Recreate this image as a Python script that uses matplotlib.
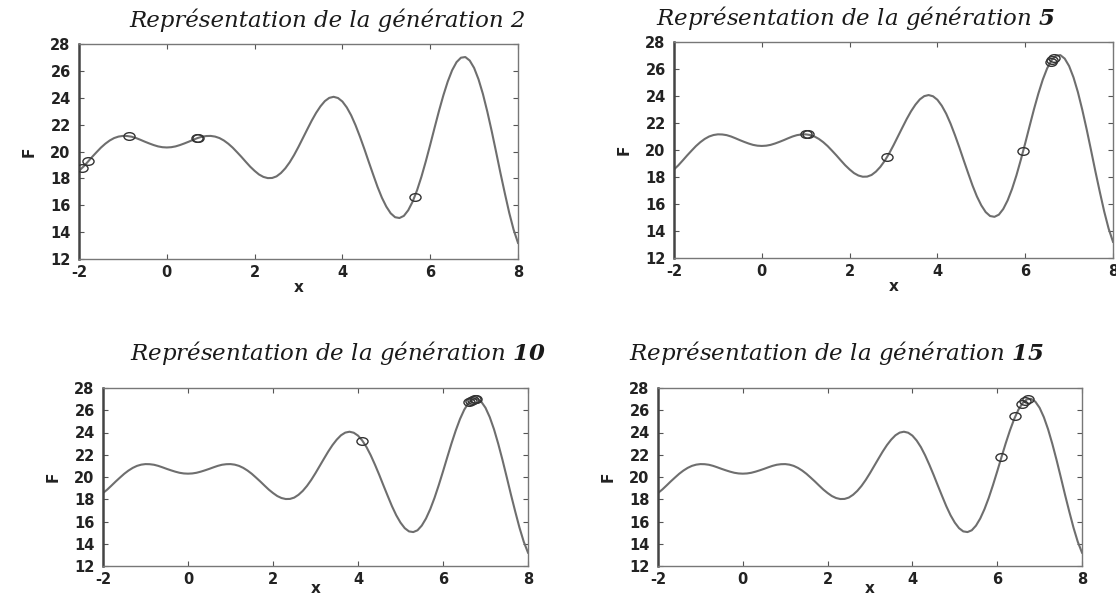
import matplotlib
matplotlib.use('Agg')
import matplotlib.pyplot as plt
from matplotlib.path import Path
from matplotlib.transforms import Affine2D

plt.rcParams['mathtext.fontset'] = 'custom'
plt.rcParams['mathtext.bf'] = 'DejaVu Serif:italic:bold'
plt.rcParams['mathtext.rm'] = 'DejaVu Serif:italic'
plt.rcParams['axes.unicode_minus'] = False

################################ courbe F(x) ################################
x_curve = [round(-2 + 0.1 * i, 1) for i in range(101)]   # pas de 0.1 sur [-2, 8]
F_curve = [18.56, 18.87, 19.23, 19.60, 19.95, 20.29, 20.58, 20.82, 21.00, 21.11,   # -2.0 .. -1.1
           21.16, 21.15, 21.10, 21.00, 20.87, 20.73, 20.60, 20.48, 20.38, 20.32,   # -1.0 .. -0.1
           20.30, 20.32, 20.38, 20.48, 20.60, 20.73, 20.87, 21.00, 21.10, 21.15,   #  0.0 ..  0.9
           21.16, 21.11, 21.00, 20.82, 20.58, 20.29, 19.95, 19.60, 19.23, 18.87,   #  1.0 ..  1.9
           18.56, 18.29, 18.11, 18.02, 18.03, 18.15, 18.40, 18.75, 19.20, 19.74,   #  2.0 ..  2.9
           20.35, 21.00, 21.65, 22.29, 22.87, 23.36, 23.75, 23.99, 24.07, 23.98,   #  3.0 ..  3.9
           23.72, 23.28, 22.69, 21.95, 21.10, 20.19, 19.23, 18.29, 17.37, 16.56,   #  4.0 ..  4.9
           15.90, 15.40, 15.11, 15.05, 15.21, 15.63, 16.27, 17.11, 18.12, 19.27,   #  5.0 ..  5.9
           20.50, 21.77, 23.02, 24.18, 25.21, 26.05, 26.65, 26.98, 27.03, 26.77,   #  6.0 ..  6.9
           26.22, 25.38, 24.29, 22.98, 21.53, 19.98, 18.40, 16.89, 15.44, 14.18,   #  7.0 ..  7.9
           13.20]                                                                  #  8.0

# individus de la population (cercles) pour chaque generation
generations = ['2', '5', '10', '15']
pop_x = [
    [-1.93, -1.79, -0.85, 0.68, 0.72, 5.65],
    [1.0, 1.05, 2.86, 5.96, 6.58, 6.62, 6.66],
    [4.1, 6.62, 6.66, 6.7, 6.75, 6.78],
    [6.1, 6.43, 6.58, 6.65, 6.73],
]
pop_F = [
    [18.78, 19.26, 21.13, 20.99, 21.01, 16.65],
    [21.16, 21.15, 19.50, 19.90, 26.55, 26.70, 26.82],
    [23.28, 26.70, 26.85, 26.95, 27.00, 27.03],
    [21.77, 25.48, 26.55, 26.85, 27.03],
]

x_ticks = [-2, 0, 2, 4, 6, 8]
y_ticks = [12, 14, 16, 18, 20, 22, 24, 26, 28]

# positions des axes en pixels (gauche, droite, haut, bas) et centre des titres
W, H = 1116, 595
boxes = [(79, 518, 44, 259), (674, 1113, 42, 258), (103, 528, 388, 566), (658, 1082, 388, 566)]
titles_pos = [(328, 20), (855, 18), (338, 353), (836, 353)]
xlabel_pad = [0, 0, -4, -4]

ellipse = Path.unit_circle().transformed(Affine2D().scale(1.45, 1.0))

fig = plt.figure(figsize=(W / 100, H / 100), dpi=100)

for i in range(4):
    l, r, t, b = boxes[i]
    ax = fig.add_axes([l / W, 1 - b / H, (r - l) / W, (b - t) / H])
    ax.plot(x_curve, F_curve, color='#6e6e6e', lw=1.5, zorder=2)
    ax.plot(pop_x[i], pop_F[i], linestyle='none', marker=ellipse, ms=8,
            mfc='none', mec='#333333', mew=1.0, zorder=3)

    ax.set_xlim(-2, 8)
    ax.set_ylim(12, 28)
    ax.set_xticks(x_ticks)
    ax.set_yticks(y_ticks)
    ax.tick_params(direction='in', top=True, right=True, length=3.5, width=0.8,
                   color='#555555', labelsize=10.5, labelcolor='#222222')
    ax.tick_params(axis='y', pad=6)
    ax.tick_params(axis='x', pad=4)
    for lab in ax.get_xticklabels() + ax.get_yticklabels():
        lab.set_fontweight('bold')
    for s in ['top', 'right', 'bottom']:
        ax.spines[s].set_color('#777777')
        ax.spines[s].set_linewidth(1.0)
    ax.spines['left'].set_color('#444444')
    ax.spines['left'].set_linewidth(1.8)

    ax.set_xlabel('x', fontsize=11, fontweight='bold', labelpad=xlabel_pad[i], color='#222222')
    ax.set_ylabel('F', fontsize=11, fontweight='bold', labelpad=10, color='#222222')

    # titre : numero de generation en gras (sauf generation 2)
    if i == 0:
        txt = 'Représentation de la génération ' + generations[i]
    else:
        txt = 'Représentation de la génération $\\mathbf{' + generations[i] + '}$'
    tx, ty = titles_pos[i]
    fig.text(tx / W, 1 - ty / H, txt, ha='center', va='center', fontsize=16.5,
             family='DejaVu Serif', style='italic', color='#1a1a1a')

fig.savefig('out.png', dpi=100, facecolor='white')
